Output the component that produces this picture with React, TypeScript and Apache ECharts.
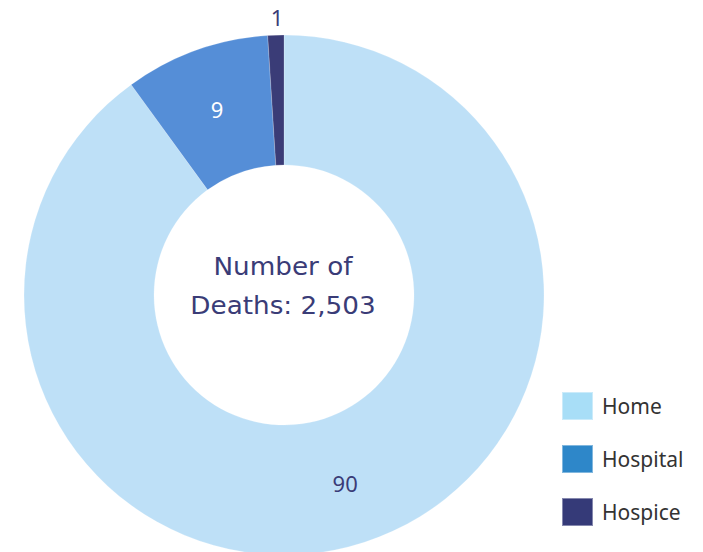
import React, { useEffect, useRef } from "react";
import * as echarts from "echarts";

const categories = ["Home", "Hospital", "Hospice"];
const values = [90, 9, 1];
const sliceColors = ["#BEE0F7", "#558ED7", "#3A3C77"];
const legendColors = ["#A8DEF7", "#2E87C9", "#353A78"];
const centerLines = ["Number of", "Deaths: 2,503"];

export default function App() {
  const ref = useRef<HTMLDivElement>(null);
  useEffect(() => {
    document.body.style.margin = "0";
    const chart = echarts.init(ref.current!, null, { renderer: "svg" });
    chart.setOption({
      animation: false,
      backgroundColor: "#ffffff",
      graphic: centerLines.map((t, i) => ({
        type: "text",
        x: 283,
        y: 266 + i * 39,
        scaleX: 1.05,
        style: {
          text: t,
          textAlign: "center",
          textVerticalAlign: "middle",
          fill: "#3A3C77",
          font: "25px 'DejaVu Sans'",
        },
      })),
      legend: {
        orient: "vertical",
        left: 561,
        top: 391,
        padding: 0,
        itemWidth: 31,
        itemHeight: 28,
        itemGap: 23,
        icon: "rect",
        textStyle: { fontFamily: "Noto Sans", fontSize: 21, lineHeight: 28, color: "#333333", padding: [0, 0, 0, 4] },
        data: categories.map((c, i) => ({ name: c, itemStyle: { color: legendColors[i] } })),
      },
      series: [
        {
          type: "pie",
          center: [284, 295],
          radius: [130, 260],
          startAngle: 90,
          clockwise: true,
          avoidLabelOverlap: false,
          itemStyle: { borderColor: "rgba(255,255,255,0.4)", borderWidth: 0.5 },
          label: {
            show: true,
            position: "inside",
            formatter: "{c}",
            fontFamily: "Noto Sans",
            fontSize: 22,
          },
          labelLine: { show: false },
          data: categories.map((c, i) => ({
            name: c,
            value: values[i],
            itemStyle: { color: sliceColors[i] },
            label:
              i === 0
                ? { color: "#3A3C77" }
                : i === 1
                ? { color: "#ffffff" }
                : { position: "outside", color: "#3A3C77", distanceToLabelLine: 0, padding: [0, -8, 0, 0] },
            labelLine: i === 2 ? { show: false, length: 18, length2: 0 } : undefined,
          })),
        },
      ],
    });
    return () => chart.dispose();
  }, []);
  return <div ref={ref} style={{ width: 703, height: 552 }} />;
}
